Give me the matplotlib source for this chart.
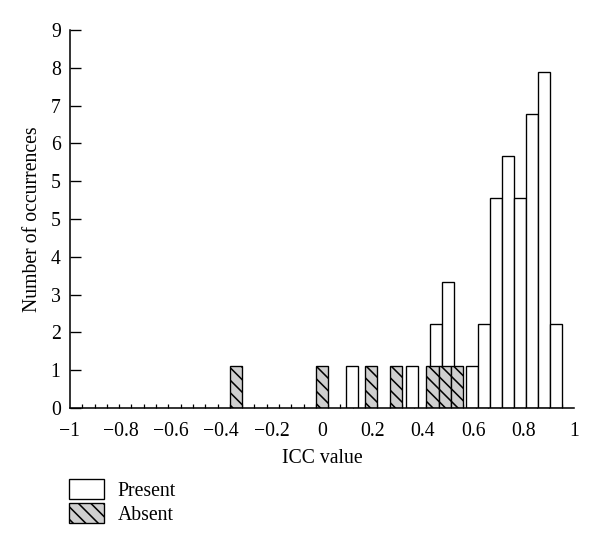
"""Histogram of ICC values, present vs absent."""
import numpy as np
import matplotlib
matplotlib.use("Agg")
from matplotlib import pyplot as plt
from matplotlib.patches import Patch

# counts per bin (Present: 42 bins on [-1, 1], Absent: 41 bins on [-1, 1])
present_counts = [0] * 23 + [1, 0, 0, 0, 0, 1, 0, 2, 3, 0, 1, 2, 5, 6, 5, 7, 8, 2, 0]
absent_counts = [0] * 13 + [1, 0, 0, 0, 0, 0, 0, 1, 0, 0, 0, 1, 0, 1, 0, 0, 1, 1, 1] + [0] * 9

x_ticks = [-1, -0.8, -0.6, -0.4, -0.2, 0, 0.2, 0.4, 0.6, 0.8, 1]
x_tick_labels = ["\u22121", "\u22120.8", "\u22120.6", "\u22120.4", "\u22120.2", "0",
                 "0.2", "0.4", "0.6", "0.8", "1"]
y_tick_labels = ["0", "1", "2", "3", "4", "5", "5", "6", "7", "8", "9"]

plt.rcParams["font.family"] = ["Liberation Serif", "DejaVu Serif"]
plt.rcParams["hatch.linewidth"] = 1.5
plt.rcParams["hatch.color"] = "black"

fs = 19
fig = plt.figure(figsize=(8, 550 / 75), dpi=75)
ax = fig.add_axes([70 / 600, 1 - 408 / 550, 504 / 600, 378 / 550])

present_edges = np.linspace(-1, 1, len(present_counts) + 1)
absent_edges = np.linspace(-1, 1, len(absent_counts) + 1)

pc = np.array(present_counts)
ac = np.array(absent_counts)
pm = pc > 0
am = ac > 0
ax.bar(present_edges[:-1][pm], pc[pm], width=np.diff(present_edges)[pm], align="edge",
       facecolor="white", edgecolor="black", linewidth=1.3, zorder=2)
ax.bar(absent_edges[:-1][am], ac[am], width=np.diff(absent_edges)[am], align="edge",
       facecolor="#cfcfcf", edgecolor="black", linewidth=1.3, hatch="\\\\", zorder=3)

ax.set_xlim(-1, 1)
ax.set_ylim(0, 9)
ax.set_xticks(x_ticks)
ax.set_xticklabels(x_tick_labels, fontsize=fs)
ax.set_xticks(absent_edges[1:-1], minor=True)
ax.set_yticks(np.linspace(0, 9, 11))
ax.set_yticklabels(y_tick_labels, fontsize=fs)
ax.tick_params(axis="x", which="major", length=0, pad=13)
ax.tick_params(axis="x", which="minor", direction="in", length=4, width=1.2)
ax.tick_params(axis="y", direction="in", length=11, width=1.3, pad=9)

for side in ["top", "right"]:
    ax.spines[side].set_visible(False)
for side in ["left", "bottom"]:
    ax.spines[side].set_linewidth(1.5)
    ax.spines[side].set_zorder(4)

ax.set_xlabel("ICC value", fontsize=fs, labelpad=8)
ax.set_ylabel("Number of occurrences", fontsize=fs, labelpad=8)

handles = [Patch(facecolor="white", edgecolor="black", linewidth=1.3, label="Present"),
           Patch(facecolor="#cfcfcf", edgecolor="black", linewidth=1.3, hatch="\\\\", label="Absent")]
fig.legend(handles=handles, loc="upper left", bbox_to_anchor=(69 / 600, 1 - 479 / 550),
           frameon=False, fontsize=fs, handlelength=1.75, handleheight=1.2,
           handletextpad=0.7, labelspacing=0.12, borderpad=0, borderaxespad=0)

fig.savefig("out.png", dpi=75)
